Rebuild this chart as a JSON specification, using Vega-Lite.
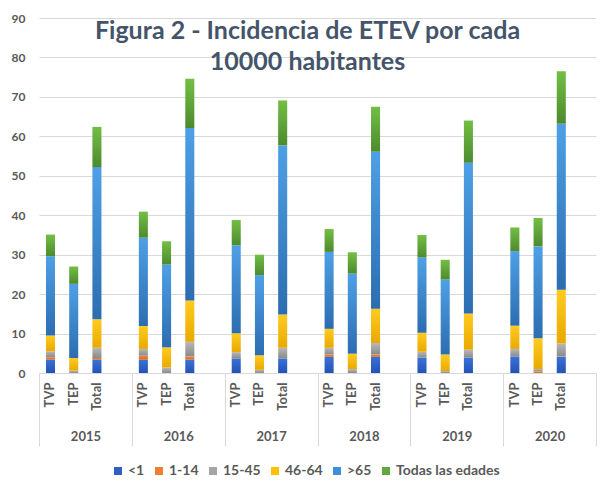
{
  "$schema": "https://vega.github.io/schema/vega-lite/v6.json",
  "width": 557,
  "height": 355,
  "autosize": {"type": "none"},
  "padding": {"left": 39, "top": 18, "right": 8, "bottom": 124},
  "background": "#ffffff",
  "config": {"view": {"stroke": null}, "font": "Lato"},
  "title": {
    "text": ["Figura 2 - Incidencia de ETEV por cada", "10000 habitantes"],
    "fontSize": 25,
    "fontWeight": "bold",
    "color": "#44546a",
    "anchor": "middle",
    "frame": "group",
    "offset": -63,
    "lineHeight": 31,
    "dx": -10
  },
  "layer": [
    {
      "data": {
        "values": [
          {"barra": "2015 TVP", "edad": "<1", "valor": 3.4},
          {"barra": "2015 TVP", "edad": "1-14", "valor": 0.6},
          {"barra": "2015 TVP", "edad": "15-45", "valor": 1.5},
          {"barra": "2015 TVP", "edad": "46-64", "valor": 4.0},
          {"barra": "2015 TVP", "edad": ">65", "valor": 20.1},
          {"barra": "2015 TVP", "edad": "Todas las edades", "valor": 5.5},
          {"barra": "2015 TEP", "edad": "<1", "valor": 0},
          {"barra": "2015 TEP", "edad": "1-14", "valor": 0},
          {"barra": "2015 TEP", "edad": "15-45", "valor": 0.6},
          {"barra": "2015 TEP", "edad": "46-64", "valor": 3.2},
          {"barra": "2015 TEP", "edad": ">65", "valor": 18.8},
          {"barra": "2015 TEP", "edad": "Todas las edades", "valor": 4.4},
          {"barra": "2015 Total", "edad": "<1", "valor": 3.4},
          {"barra": "2015 Total", "edad": "1-14", "valor": 0.4},
          {"barra": "2015 Total", "edad": "15-45", "valor": 2.6},
          {"barra": "2015 Total", "edad": "46-64", "valor": 7.2},
          {"barra": "2015 Total", "edad": ">65", "valor": 38.6},
          {"barra": "2015 Total", "edad": "Todas las edades", "valor": 10.2},
          {"barra": "2016 TVP", "edad": "<1", "valor": 3.4},
          {"barra": "2016 TVP", "edad": "1-14", "valor": 1.0},
          {"barra": "2016 TVP", "edad": "15-45", "valor": 1.7},
          {"barra": "2016 TVP", "edad": "46-64", "valor": 5.8},
          {"barra": "2016 TVP", "edad": ">65", "valor": 22.4},
          {"barra": "2016 TVP", "edad": "Todas las edades", "valor": 6.6},
          {"barra": "2016 TEP", "edad": "<1", "valor": 0},
          {"barra": "2016 TEP", "edad": "1-14", "valor": 0},
          {"barra": "2016 TEP", "edad": "15-45", "valor": 1.4},
          {"barra": "2016 TEP", "edad": "46-64", "valor": 5.1},
          {"barra": "2016 TEP", "edad": ">65", "valor": 21.0},
          {"barra": "2016 TEP", "edad": "Todas las edades", "valor": 5.9},
          {"barra": "2016 Total", "edad": "<1", "valor": 3.4},
          {"barra": "2016 Total", "edad": "1-14", "valor": 0.8},
          {"barra": "2016 Total", "edad": "15-45", "valor": 3.7},
          {"barra": "2016 Total", "edad": "46-64", "valor": 10.5},
          {"barra": "2016 Total", "edad": ">65", "valor": 43.7},
          {"barra": "2016 Total", "edad": "Todas las edades", "valor": 12.5},
          {"barra": "2017 TVP", "edad": "<1", "valor": 3.7},
          {"barra": "2017 TVP", "edad": "1-14", "valor": 0},
          {"barra": "2017 TVP", "edad": "15-45", "valor": 1.6},
          {"barra": "2017 TVP", "edad": "46-64", "valor": 4.8},
          {"barra": "2017 TVP", "edad": ">65", "valor": 22.3},
          {"barra": "2017 TVP", "edad": "Todas las edades", "valor": 6.4},
          {"barra": "2017 TEP", "edad": "<1", "valor": 0},
          {"barra": "2017 TEP", "edad": "1-14", "valor": 0},
          {"barra": "2017 TEP", "edad": "15-45", "valor": 0.8},
          {"barra": "2017 TEP", "edad": "46-64", "valor": 3.7},
          {"barra": "2017 TEP", "edad": ">65", "valor": 20.3},
          {"barra": "2017 TEP", "edad": "Todas las edades", "valor": 5.2},
          {"barra": "2017 Total", "edad": "<1", "valor": 3.7},
          {"barra": "2017 Total", "edad": "1-14", "valor": 0},
          {"barra": "2017 Total", "edad": "15-45", "valor": 2.7},
          {"barra": "2017 Total", "edad": "46-64", "valor": 8.4},
          {"barra": "2017 Total", "edad": ">65", "valor": 42.9},
          {"barra": "2017 Total", "edad": "Todas las edades", "valor": 11.4},
          {"barra": "2018 TVP", "edad": "<1", "valor": 4.1},
          {"barra": "2018 TVP", "edad": "1-14", "valor": 0.6},
          {"barra": "2018 TVP", "edad": "15-45", "valor": 1.7},
          {"barra": "2018 TVP", "edad": "46-64", "valor": 4.8},
          {"barra": "2018 TVP", "edad": ">65", "valor": 19.5},
          {"barra": "2018 TVP", "edad": "Todas las edades", "valor": 5.8},
          {"barra": "2018 TEP", "edad": "<1", "valor": 0},
          {"barra": "2018 TEP", "edad": "1-14", "valor": 0},
          {"barra": "2018 TEP", "edad": "15-45", "valor": 1.0},
          {"barra": "2018 TEP", "edad": "46-64", "valor": 3.9},
          {"barra": "2018 TEP", "edad": ">65", "valor": 20.3},
          {"barra": "2018 TEP", "edad": "Todas las edades", "valor": 5.4},
          {"barra": "2018 Total", "edad": "<1", "valor": 4.1},
          {"barra": "2018 Total", "edad": "1-14", "valor": 0.6},
          {"barra": "2018 Total", "edad": "15-45", "valor": 2.9},
          {"barra": "2018 Total", "edad": "46-64", "valor": 8.7},
          {"barra": "2018 Total", "edad": ">65", "valor": 39.8},
          {"barra": "2018 Total", "edad": "Todas las edades", "valor": 11.4},
          {"barra": "2019 TVP", "edad": "<1", "valor": 3.9},
          {"barra": "2019 TVP", "edad": "1-14", "valor": 0},
          {"barra": "2019 TVP", "edad": "15-45", "valor": 1.5},
          {"barra": "2019 TVP", "edad": "46-64", "valor": 4.8},
          {"barra": "2019 TVP", "edad": ">65", "valor": 19.1},
          {"barra": "2019 TVP", "edad": "Todas las edades", "valor": 5.7},
          {"barra": "2019 TEP", "edad": "<1", "valor": 0},
          {"barra": "2019 TEP", "edad": "1-14", "valor": 0},
          {"barra": "2019 TEP", "edad": "15-45", "valor": 0.5},
          {"barra": "2019 TEP", "edad": "46-64", "valor": 4.2},
          {"barra": "2019 TEP", "edad": ">65", "valor": 19.0},
          {"barra": "2019 TEP", "edad": "Todas las edades", "valor": 5.0},
          {"barra": "2019 Total", "edad": "<1", "valor": 3.9},
          {"barra": "2019 Total", "edad": "1-14", "valor": 0},
          {"barra": "2019 Total", "edad": "15-45", "valor": 2.0},
          {"barra": "2019 Total", "edad": "46-64", "valor": 9.2},
          {"barra": "2019 Total", "edad": ">65", "valor": 38.2},
          {"barra": "2019 Total", "edad": "Todas las edades", "valor": 10.7},
          {"barra": "2020 TVP", "edad": "<1", "valor": 4.2},
          {"barra": "2020 TVP", "edad": "1-14", "valor": 0},
          {"barra": "2020 TVP", "edad": "15-45", "valor": 1.9},
          {"barra": "2020 TVP", "edad": "46-64", "valor": 5.9},
          {"barra": "2020 TVP", "edad": ">65", "valor": 18.9},
          {"barra": "2020 TVP", "edad": "Todas las edades", "valor": 6.0},
          {"barra": "2020 TEP", "edad": "<1", "valor": 0},
          {"barra": "2020 TEP", "edad": "1-14", "valor": 0.4},
          {"barra": "2020 TEP", "edad": "15-45", "valor": 0.6},
          {"barra": "2020 TEP", "edad": "46-64", "valor": 7.8},
          {"barra": "2020 TEP", "edad": ">65", "valor": 23.3},
          {"barra": "2020 TEP", "edad": "Todas las edades", "valor": 7.2},
          {"barra": "2020 Total", "edad": "<1", "valor": 4.1},
          {"barra": "2020 Total", "edad": "1-14", "valor": 0.1},
          {"barra": "2020 Total", "edad": "15-45", "valor": 3.3},
          {"barra": "2020 Total", "edad": "46-64", "valor": 13.6},
          {"barra": "2020 Total", "edad": ">65", "valor": 42.1},
          {"barra": "2020 Total", "edad": "Todas las edades", "valor": 13.3}
        ]
      },
      "transform": [{"stack": "valor", "groupby": ["barra"], "as": ["v0", "v1"]}],
      "encoding": {
        "x": {
          "field": "barra",
          "type": "nominal",
          "sort": null,
          "scale": {
            "domain": [
              "2015 TVP", "2015 TEP", "2015 Total", "2015 _",
              "2016 TVP", "2016 TEP", "2016 Total", "2016 _",
              "2017 TVP", "2017 TEP", "2017 Total", "2017 _",
              "2018 TVP", "2018 TEP", "2018 Total", "2018 _",
              "2019 TVP", "2019 TEP", "2019 Total", "2019 _",
              "2020 TVP", "2020 TEP", "2020 Total", "2020 _"
            ],
            "paddingInner": 0.61,
            "paddingOuter": 0.3
          },
          "axis": {
            "orient": "bottom",
            "title": null,
            "ticks": false,
            "domainColor": "#d9d9d9",
            "labelAngle": -90,
            "labelPadding": 9,
            "labelFontSize": 13,
            "labelFontWeight": "bold",
            "labelColor": "#595959",
            "labelOverlap": false,
            "labelExpr": "replace(split(datum.value, ' ')[1], '_', '')"
          }
        },
        "y": {
          "field": "v0",
          "type": "quantitative",
          "scale": {"domain": [0, 90]},
          "axis": {
            "title": null,
            "values": [0, 10, 20, 30, 40, 50, 60, 70, 80, 90],
            "domain": false,
            "ticks": false,
            "labelPadding": 14,
            "gridColor": "#d9d9d9",
            "labelFontSize": 12,
            "labelFontWeight": "bold",
            "labelColor": "#595959"
          }
        },
        "y2": {"field": "v1"}
      },
      "layer": [
        {
          "mark": {"type": "bar", "opacity": 0},
          "encoding": {
            "color": {
              "field": "edad",
              "type": "nominal",
              "scale": {
                "domain": ["<1", "1-14", "15-45", "46-64", ">65", "Todas las edades"],
                "range": ["#2f5fc4", "#ed7d31", "#a5a5a5", "#ffc000", "#3f8ed8", "#62a83e"]
              },
              "legend": {
                "title": null,
                "orient": "none",
                "legendX": 72,
                "legendY": 446,
                "direction": "horizontal",
                "columns": 6,
                "symbolType": "square",
                "symbolSize": 64,
                "symbolOpacity": 1,
                "symbolStrokeWidth": 0,
                "labelFontSize": 14,
                "labelFontWeight": "bold",
                "labelColor": "#595959",
                "columnPadding": 7,
                "labelOffset": 3
              }
            }
          }
        },
        {
          "transform": [{"filter": "datum.edad == '<1'"}],
          "mark": {"type": "bar", "color": {"gradient": "linear", "x1": 0, "y1": 0, "x2": 0, "y2": 1, "stops": [{"offset": 0, "color": "#3a72d8"}, {"offset": 1, "color": "#2452b4"}]}}
        },
        {
          "transform": [{"filter": "datum.edad == '1-14'"}],
          "mark": {"type": "bar", "color": {"gradient": "linear", "x1": 0, "y1": 0, "x2": 0, "y2": 1, "stops": [{"offset": 0, "color": "#f58a3c"}, {"offset": 1, "color": "#d9661e"}]}}
        },
        {
          "transform": [{"filter": "datum.edad == '15-45'"}],
          "mark": {"type": "bar", "color": {"gradient": "linear", "x1": 0, "y1": 0, "x2": 0, "y2": 1, "stops": [{"offset": 0, "color": "#b8b8b8"}, {"offset": 1, "color": "#8a8a8a"}]}}
        },
        {
          "transform": [{"filter": "datum.edad == '46-64'"}],
          "mark": {"type": "bar", "color": {"gradient": "linear", "x1": 0, "y1": 0, "x2": 0, "y2": 1, "stops": [{"offset": 0, "color": "#ffcb21"}, {"offset": 1, "color": "#e9a900"}]}}
        },
        {
          "transform": [{"filter": "datum.edad == '>65'"}],
          "mark": {"type": "bar", "color": {"gradient": "linear", "x1": 0, "y1": 0, "x2": 0, "y2": 1, "stops": [{"offset": 0, "color": "#4ea0e6"}, {"offset": 1, "color": "#2c6db0"}]}}
        },
        {
          "transform": [{"filter": "datum.edad == 'Todas las edades'"}],
          "mark": {"type": "bar", "color": {"gradient": "linear", "x1": 0, "y1": 0, "x2": 0, "y2": 1, "stops": [{"offset": 0, "color": "#72bf44"}, {"offset": 1, "color": "#4d8a2e"}]}}
        }
      ]
    },
    {
      "data": {
        "values": [
          {"anio": "2015"}, {"anio": "2016"}, {"anio": "2017"},
          {"anio": "2018"}, {"anio": "2019"}, {"anio": "2020"}
        ]
      },
      "mark": {"type": "bar", "opacity": 0},
      "encoding": {
        "x": {
          "field": "anio",
          "type": "ordinal",
          "scale": {"paddingInner": 0, "paddingOuter": 0},
          "axis": {
            "orient": "bottom",
            "title": null,
            "domain": false,
            "grid": false,
            "ticks": true,
            "tickBand": "extent",
            "tickSize": 73,
            "tickColor": "#d9d9d9",
            "labelAngle": 0,
            "labelPadding": -16,
            "labelFontSize": 13,
            "labelFontWeight": "bold",
            "labelColor": "#595959"
          }
        }
      }
    }
  ],
  "resolve": {"scale": {"x": "independent"}, "axis": {"x": "independent"}}
}
